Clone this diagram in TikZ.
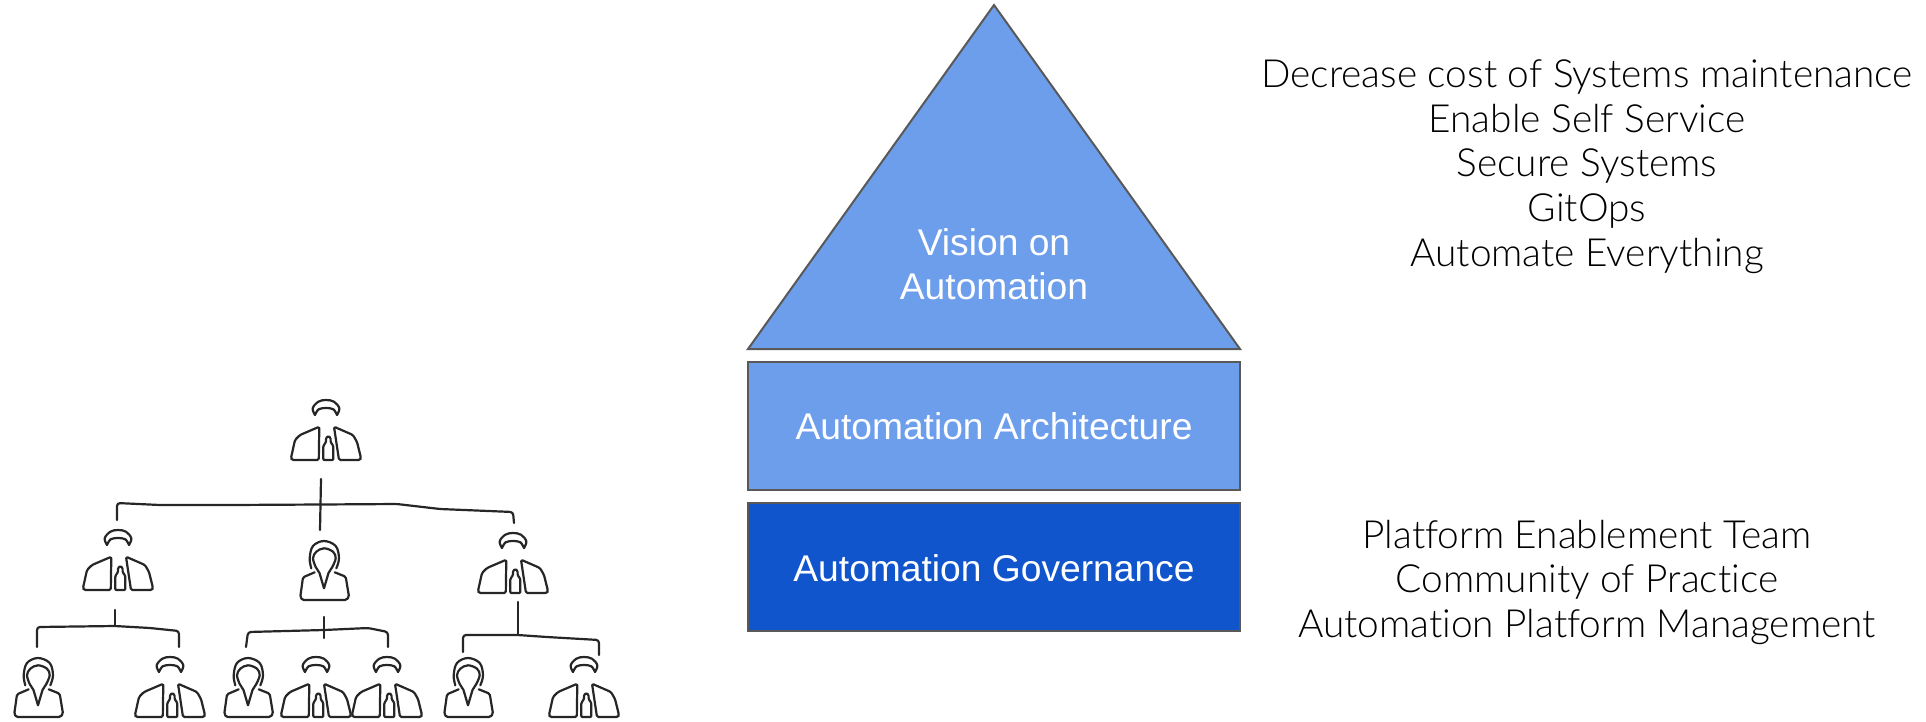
\documentclass[tikz,border=0pt]{standalone}
\usepackage{fontspec}
\setmainfont{Lato}[UprightFont={* Light},Ligatures=CommonOff]
\newfontfamily\arialfont{Liberation Sans}
\tikzset{
  x=1pt,y=-1pt,
  ink/.style={draw=black!85,line width=2.2pt,line join=round,line cap=round},
  wire/.style={ink,rounded corners=3pt},
  block/.style={draw=black!65,line width=2pt,line join=miter},
  lightfill/.style={block,fill=blockLight},
  darkfill/.style={block,fill=blockDark},
  inlabel/.style={inner sep=0pt,anchor=base,text=white,font=\arialfont\fontsize{37.2}{40}\selectfont},
  sidelabel/.style={inner sep=0pt,anchor=base,text=black,font=\fontsize{38.8}{42}\selectfont},
  man/.pic={
    \draw[ink] plot[smooth,tension=.6] coordinates {(-11,-45) (-13.3,-51.7) (-7.7,-58.3) (0,-60) (8,-58.3) (13.3,-51.7) (11,-45)};
    \draw[ink] plot[smooth,tension=.6] coordinates {(-11,-45) (-7.3,-50.7) (0,-52) (7.3,-50.7) (11,-45)};
    \draw[ink,rounded corners=1.5pt] (-6.7,-33.3) -- (-26,-25) -- (-31,-20) -- (-35,-2) -- (-34,0) -- (-7.2,0) -- cycle;
    \draw[ink,rounded corners=1.5pt] (8,-33.3) -- (27,-25) -- (31,-18) -- (35,-2) -- (34,0) -- (13,0) -- cycle;
    \draw[ink,rounded corners=1pt] (-2.7,0) -- (-2.7,-14) -- (0,-18) -- (0,-22) -- (2.3,-24) -- (4.6,-22) -- (4.6,-18) -- (7.3,-14) -- (7.3,0) -- cycle;
  },
  woman/.pic={
    \draw[ink] plot[smooth,tension=.6] coordinates {(-12.7,-31.7) (-14.3,-41.7) (-11,-54) (0,-59) (11.7,-54) (15,-41.7) (12.3,-31.7)};
    \draw[ink] plot[smooth,tension=.6] coordinates {(-8.3,-33) (-11,-41.7) (-7.7,-48.3) (0,-51.7) (9,-48.3) (11.7,-41.7) (8.3,-33)};
    \draw[ink] (-8.3,-33) -- (-4.5,-27) -- (0,-11.7) -- (4.5,-27) -- (8.3,-33);
    \draw[ink,rounded corners=1.5pt] (-9.3,-27.7) -- (-21,-22.7) -- (-23.7,-3.3) -- (-21.7,0) -- (22.3,0) -- (25,-3.3) -- (21.7,-23.3) -- (10.7,-27.7);
  },
}
\definecolor{blockLight}{HTML}{6D9EEB}
\definecolor{blockDark}{HTML}{1155CC}
\begin{document}
\begin{tikzpicture}
\useasboundingbox (0,0) rectangle (1926,721);
% pyramid
\coordinate (apex) at (994,5);
\coordinate (baseL) at (748,349);
\coordinate (baseR) at (1240,349);
\draw[lightfill] (apex) -- (baseR) -- (baseL) -- cycle;
\node[lightfill,anchor=north west,minimum width=492pt,minimum height=128pt,inner sep=0pt,outer sep=0pt] (arch) at (748,362) {};
\node[darkfill,anchor=north west,minimum width=492pt,minimum height=128pt,inner sep=0pt,outer sep=0pt] (gov) at (748,503) {};
\node[inlabel] (v1) at (994,255) {Vision on};
\node[inlabel] (v2) at (994,299) {Automation};
\node[inlabel] (a1) at (994,439) {Automation Architecture};
\node[inlabel] (g1) at (994,581) {Automation Governance};
% side text
\node[sidelabel] (s1) at (1587,87) {Decrease cost of Systems maintenance};
\node[sidelabel] (s2) at (1587,132) {Enable Self Service};
\node[sidelabel] (s3) at (1587,176) {Secure Systems};
\node[sidelabel] (s4) at (1587,221) {GitOps};
\node[sidelabel] (s5) at (1587,266) {Automate Everything};
\node[sidelabel] (b1) at (1587,548) {Platform Enablement Team};
\node[sidelabel] (b2) at (1587,592) {Community of Practice};
\node[sidelabel] (b3) at (1587,637) {Automation Platform Management};
% people
\pic at (326,460) {man};
\pic at (118,590) {man};
\pic at (324,600) {woman};
\pic at (513,593) {man};
\pic at (38,717) {woman};
\pic at (170,717) {man};
\pic at (248,717) {woman};
\pic at (316,717) {man};
\pic at (387,717) {man};
\pic at (468,717) {woman};
\pic at (584,717) {man};
% connector ends
\coordinate (c0a) at (321,479); \coordinate (c0b) at (320,530);
\coordinate (d1) at (117,520); \coordinate (d3) at (514,523);
\coordinate (c1a) at (115,610); \coordinate (c1b) at (115,626);
\coordinate (d4) at (37,647); \coordinate (d5) at (179,647);
\coordinate (c2a) at (324,617); \coordinate (c2b) at (324,638);
\coordinate (d6) at (246,647); \coordinate (d7) at (388,647);
\coordinate (c3a) at (518,602); \coordinate (c3b) at (518,635);
\coordinate (d8) at (463,652); \coordinate (d9) at (599,655);
\draw[ink] (c0a) -- (c0b);
\draw[wire] (d1) -- (117,503) -- (160,505) -- (230,505) -- (320,504.5) -- (397,504) -- (440,509) -- (513,512) -- (d3);
\draw[ink] (c1a) -- (c1b);
\draw[wire] (d4) -- (37,627) -- (c1b) -- (150,628) -- (179,631) -- (d5);
\draw[ink] (c2a) -- (c2b);
\draw[wire] (d6) -- (248,632) -- (324,630) -- (368,628) -- (388,632) -- (d7);
\draw[ink] (c3a) -- (c3b);
\draw[wire] (d8) -- (463,635) -- (c3b) -- (547,637) -- (599,640) -- (d9);
\end{tikzpicture}
\end{document}
